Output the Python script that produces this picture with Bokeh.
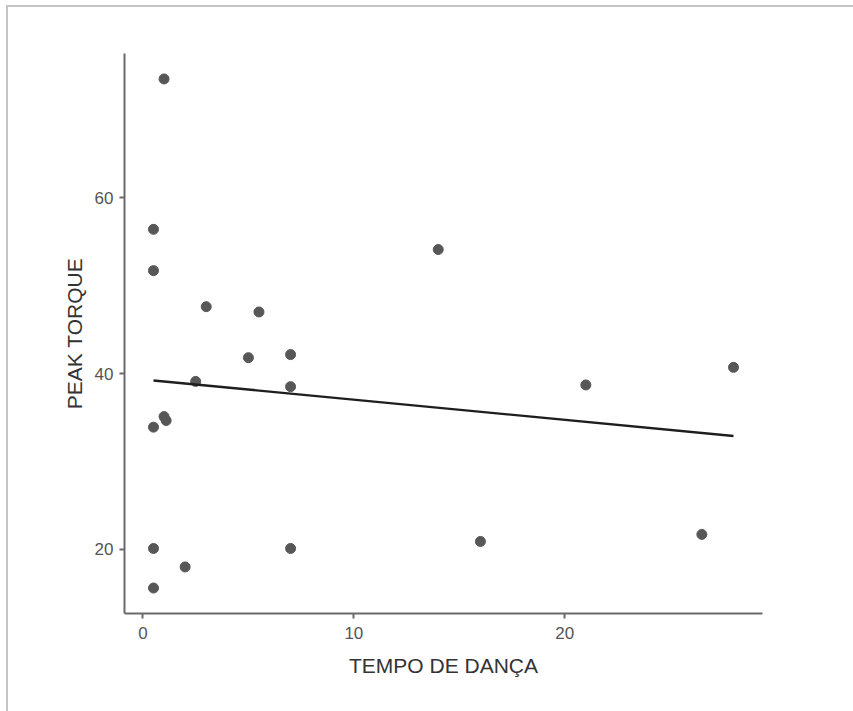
import numpy as np
from bokeh.plotting import figure
from bokeh.models import Range1d, FixedTicker, ColumnDataSource
from bokeh.embed import file_html
from bokeh.resources import INLINE

# Data
tempo_danca = [1.0, 0.5, 0.5, 3.0, 5.5, 14.0, 5.0, 7.0, 7.0, 2.5, 21.0, 28.0,
               1.0, 1.1, 0.5, 0.5, 2.0, 0.5, 7.0, 16.0, 26.5]
peak_torque = [73.5, 56.4, 51.7, 47.6, 47.0, 54.1, 41.8, 42.15, 38.5, 39.1, 38.7, 40.7,
               35.1, 34.65, 33.9, 20.1, 18.0, 15.6, 20.1, 20.9, 21.7]
x_ticks = [0, 10, 20]
y_ticks = [20, 40, 60]

x = np.array(tempo_danca)
y = np.array(peak_torque)

# ggplot-like 5% expansion
xr = x.max() - x.min()
yr = y.max() - y.min()
x_range = Range1d(x.min() - 0.05 * xr, x.max() + 0.05 * xr)
y_range = Range1d(y.min() - 0.05 * yr, y.max() + 0.05 * yr)

# linear fit (geom_smooth method = "lm")
slope, intercept = np.polyfit(x, y, 1)
fit_x = np.array([x.min(), x.max()])
fit_y = intercept + slope * fit_x

W, H = 847, 706
p = figure(width=W, height=H, output_backend="svg", toolbar_location=None,
           x_range=x_range, y_range=y_range,
           min_border_left=116, min_border_right=W - 754, min_border_top=46,
           min_border_bottom=H - 606)
# light grey frame of the screenshot (left and top edges only)
p.margin = (5, 0, 0, 6)
p.styles = {"border-left": "2px solid #c4c4c4", "border-top": "2px solid #c4c4c4",
            "border-right": "0px none", "border-bottom": "0px none",
            "outline": "none", "box-shadow": "none"}

p.background_fill_color = "white"
p.border_fill_color = "white"
p.outline_line_color = None
p.grid.visible = False

src = ColumnDataSource(dict(x=x, y=y))
p.scatter("x", "y", source=src, size=10, fill_color="#575757", line_color="#575757")
p.line(fit_x, fit_y, line_color="#1e1e1e", line_width=2.4)

TICK_FONT = "Liberation Sans"
for ax in (p.xaxis[0], p.yaxis[0]):
    ax.axis_line_color = "#6a6a6a"
    ax.axis_line_width = 2
    ax.major_tick_line_color = "#6a6a6a"
    ax.major_tick_line_width = 2
    ax.major_tick_out = 5
    ax.major_tick_in = 0
    ax.minor_tick_line_color = None
    ax.major_label_text_font = TICK_FONT
    ax.major_label_text_font_size = "17px"
    ax.major_label_text_color = "#555555"
    ax.axis_label_text_font = TICK_FONT
    ax.axis_label_text_font_size = "21px"
    ax.axis_label_text_font_style = "normal"
    ax.axis_label_text_color = "#333333"

p.xaxis.ticker = FixedTicker(ticks=x_ticks)
p.yaxis.ticker = FixedTicker(ticks=y_ticks)
p.xaxis.axis_label = "TEMPO DE DANÇA"
p.yaxis.axis_label = "PEAK TORQUE"
p.xaxis.major_label_standoff = 8
p.yaxis.major_label_standoff = 6
p.xaxis.axis_label_standoff = 12
p.yaxis.axis_label_standoff = 6

open("out.html", "w").write(file_html(p, INLINE))
